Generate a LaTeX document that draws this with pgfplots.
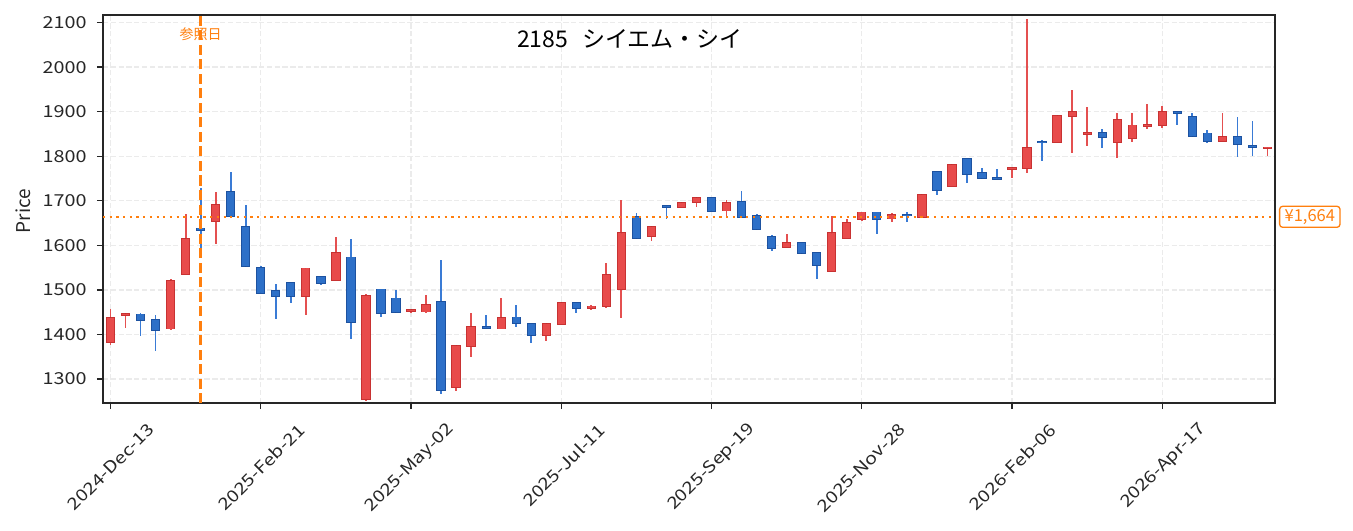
\documentclass[border=0pt]{standalone}
\usepackage{pgfplots}
\pgfplotsset{compat=1.18}
\usepackage{pgfplotstable}
\usepackage{fontspec}
\setmainfont{Noto Sans CJK JP}
\newfontfamily\tickfont[FakeStretch=1.2]{Noto Sans CJK JP}
\definecolor{upfill}{HTML}{E84B4B}
\definecolor{upedge}{HTML}{C83232}
\definecolor{upwick}{HTML}{E45050}
\definecolor{dnfill}{HTML}{2D70C8}
\definecolor{dnedge}{HTML}{1D52A0}
\definecolor{dnwick}{HTML}{3A7BD5}
\definecolor{refor}{HTML}{FF7F0E}
\definecolor{axisc}{HTML}{262626}
\definecolor{gridc}{HTML}{EBEBEB}

\pgfplotstableread{
x o h l c
0 1382 1458 1377 1437
1 1444 1449 1415 1446
4 1413 1525 1411 1520
5 1535 1670 1533 1615
7 1654 1720 1603 1691
13 1486 1550 1444 1548
15 1522 1618 1521 1583
17 1254 1490 1250 1487
20 1452 1456 1447 1455
21 1451 1488 1449 1467
23 1281 1376 1273 1374
24 1373 1447 1349 1417
26 1413 1481 1412 1437
29 1398 1425 1385 1424
30 1423 1472 1422 1471
32 1459 1467 1454 1463
33 1463 1561 1460 1534
34 1502 1702 1437 1627
36 1621 1643 1610 1642
38 1686 1697 1685 1696
39 1697 1708 1687 1707
41 1678 1701 1666 1696
45 1596 1625 1595 1606
48 1542 1666 1541 1627
49 1617 1659 1615 1651
50 1659 1675 1655 1674
52 1660 1672 1653 1668
54 1664 1715 1662 1714
56 1733 1782 1732 1781
60 1771 1775 1750 1774
61 1773 2108 1763 1819
63 1831 1892 1830 1891
64 1890 1949 1808 1900
65 1849 1910 1824 1852
67 1832 1896 1797 1882
68 1841 1896 1833 1869
69 1867 1917 1862 1871
70 1869 1912 1864 1900
74 1834 1896 1831 1844
77 1818 1821 1801 1820
}\upT

\pgfplotstableread{
x o h l c
2 1445 1447 1397 1433
3 1433 1443 1363 1409
6 1638 1728 1576 1635
8 1720 1764 1664 1665
9 1642 1690 1552 1553
10 1549 1553 1494 1494
11 1498 1514 1434 1487
12 1516 1517 1471 1486
14 1529 1532 1511 1515
16 1573 1614 1390 1427
18 1501 1502 1439 1449
19 1481 1499 1449 1450
22 1473 1567 1267 1275
25 1417 1443 1413 1415
27 1438 1467 1417 1425
28 1424 1425 1381 1398
31 1471 1473 1447 1460
35 1664 1673 1615 1616
37 1689 1690 1660 1687
40 1707 1708 1678 1678
42 1698 1722 1662 1663
43 1666 1670 1636 1636
44 1618 1623 1588 1594
46 1606 1607 1581 1582
47 1583 1584 1525 1555
51 1674 1675 1626 1660
53 1669 1674 1653 1667
55 1765 1766 1713 1725
57 1794 1795 1740 1761
58 1763 1773 1750 1751
59 1751 1771 1746 1749
62 1833 1836 1790 1831
66 1853 1861 1819 1843
71 1900 1901 1869 1898
72 1889 1896 1845 1845
73 1851 1859 1830 1834
75 1844 1887 1799 1827
76 1823 1879 1801 1820
}\dnT

\pgfplotsset{
  candle/.style 2 args={only marks, mark=*, mark size=0pt, mark options={draw=none, fill=none},
    forget plot, error bars/.cd, y dir=both, y explicit, error mark=none,
    error bar style={line width=#1, draw=#2, solid}},
}

\begin{document}
\begin{tikzpicture}
\useasboundingbox (-103bp,-128bp) rectangle (1250bp,403bp);
\begin{axis}[
  at={(0,0)}, anchor=south west,
  width=1172bp, height=388bp, scale only axis,
  xmin=-0.5, xmax=77.5, ymin=1246, ymax=2117,
  clip=false,
  axis line style={line width=1.5bp, draw=axisc},
  tick pos=left, tick align=outside, major tick length=6bp,
  tick style={line width=1.3bp, draw=axisc},
  xtick={0,10,...,70},
  xticklabels={2024-Dec-13,2025-Feb-21,2025-May-02,2025-Jul-11,2025-Sep-19,2025-Nov-28,2026-Feb-06,2026-Apr-17},
  ytick={1300,1400,...,2100},
  /pgf/number format/assume math mode=true,
  /pgf/number format/1000 sep={},
  grid=major,
  grid style={line width=1.3bp, draw=gridc, dash pattern=on 5.3bp off 2.5bp},
  yticklabel style={font=\tickfont\fontsize{16.5bp}{18bp}\selectfont, text=axisc, anchor=east, inner sep=0pt, xshift=-10.3bp},
  xticklabel style={font=\tickfont\fontsize{16.5bp}{18bp}\selectfont, text=axisc, xshift=40.7bp, yshift=-17.8bp, rotate=45, anchor=east, inner sep=0pt},
  ylabel={Price},
  ylabel style={font=\fontsize{19bp}{21bp}\selectfont, text=axisc, at={(axis description cs:-0.0617,0.4948)}, anchor=base},
]
% wicks
\addplot[candle={1.8bp}{upwick}]
  table[x=x, y=c, y error plus expr=\thisrow{h}-\thisrow{c}, y error minus expr=\thisrow{c}-\thisrow{l}]{\upT};
\addplot[candle={1.8bp}{dnwick}]
  table[x=x, y=c, y error plus expr=\thisrow{h}-\thisrow{c}, y error minus expr=\thisrow{c}-\thisrow{l}]{\dnT};
% body edges
\addplot[candle={9.3bp}{upedge}]
  table[x=x, y=c, y error plus expr=1.8, y error minus expr=\thisrow{c}-\thisrow{o}+1.8]{\upT};
\addplot[candle={9.3bp}{dnedge}]
  table[x=x, y=c, y error plus expr=\thisrow{o}-\thisrow{c}+1.8, y error minus expr=1.8]{\dnT};
% body fills
\addplot[candle={7.3bp}{upfill}]
  table[x=x, y=c, y error plus expr=0, y error minus expr=\thisrow{c}-\thisrow{o}]{\upT};
\addplot[candle={7.3bp}{dnfill}]
  table[x=x, y=c, y error plus expr=\thisrow{o}-\thisrow{c}, y error minus expr=0]{\dnT};
% reference lines
\addplot[refor, line width=2.5bp, dash pattern=on 10bp off 4.5bp, forget plot] coordinates {(6,1246) (6,2117)};
\addplot[refor, line width=2.2bp, dash pattern=on 2.2bp off 4.5bp, forget plot] coordinates {(-0.5,1664) (77.5,1664)};
% texts
\node[font=\fontsize{23bp}{26bp}\selectfont, text=black, anchor=base] at (axis description cs:0.4497,0.9168) {2185\hspace{14bp}シイエム・シイ};
\node[font=\fontsize{14bp}{16bp}\selectfont, text=refor, anchor=center] at (axis cs:6,2074) {参照日};
\node[anchor=west, xshift=4bp, draw=refor, fill=white, rounded corners=3bp, line width=1.3bp, text=refor,
  font=\fontsize{16.5bp}{18bp}\selectfont, inner xsep=5bp, inner ysep=0pt, minimum height=21bp] at (axis cs:77.5,1664) {¥1,664};
\end{axis}
\end{tikzpicture}
\end{document}
